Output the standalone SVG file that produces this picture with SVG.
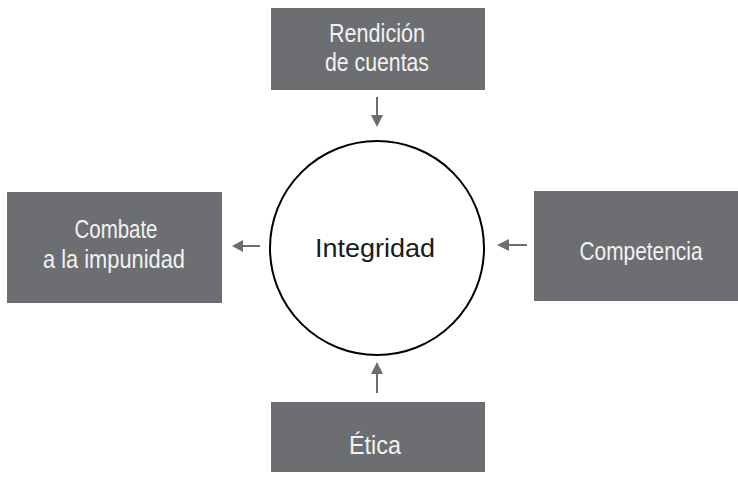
<svg xmlns="http://www.w3.org/2000/svg" width="738" height="482" viewBox="0 0 738 482">
<defs>
<style>
.box{fill:#6d6e71}
.lbl{font-family:"Liberation Sans",Arial,sans-serif;font-size:26px;fill:#f2f2f2;text-anchor:middle}
.ctr{font-family:"Liberation Sans",Arial,sans-serif;font-size:25px;fill:#1a1a1a;text-anchor:middle}
.conn{stroke:#6d6e71;stroke-width:2;fill:none}
.head{fill:#6d6e71}
</style>
</defs>
<rect width="738" height="482" fill="#fff"/>
<g id="rendicion">
<rect class="box" x="271" y="8" width="214" height="82"/>
<text class="lbl" x="377" y="42" textLength="96" lengthAdjust="spacingAndGlyphs">Rendición</text>
<text class="lbl" x="377" y="71" textLength="104" lengthAdjust="spacingAndGlyphs">de cuentas</text>
</g>
<g id="combate">
<rect class="box" x="7" y="192" width="215" height="111"/>
<text class="lbl" x="116" y="238" textLength="83" lengthAdjust="spacingAndGlyphs">Combate</text>
<text class="lbl" x="114" y="268" textLength="142" lengthAdjust="spacingAndGlyphs">a la impunidad</text>
</g>
<g id="competencia">
<rect class="box" x="534" y="191" width="204" height="110"/>
<text class="lbl" x="641" y="260" textLength="123" lengthAdjust="spacingAndGlyphs">Competencia</text>
</g>
<g id="etica">
<rect class="box" x="271" y="402" width="214" height="70"/>
<text class="lbl" x="375" y="454" textLength="52" lengthAdjust="spacingAndGlyphs">Ética</text>
</g>
<g id="integridad">
<circle cx="377" cy="248" r="107" fill="#fff" stroke="#000" stroke-width="2"/>
<text class="ctr" x="375" y="257" textLength="120" lengthAdjust="spacingAndGlyphs">Integridad</text>
</g>
<g id="connectors">
<line class="conn" x1="377" y1="97" x2="377" y2="116"/>
<polygon class="head" points="371,115 383,115 377,127"/>
<line class="conn" x1="260" y1="246" x2="242" y2="246"/>
<polygon class="head" points="243,240 243,252 232,246"/>
<line class="conn" x1="527" y1="245" x2="508" y2="245"/>
<polygon class="head" points="509,239 509,251 497,245"/>
<line class="conn" x1="377" y1="393" x2="377" y2="373"/>
<polygon class="head" points="371,374 383,374 377,362"/>
</g>
</svg>
